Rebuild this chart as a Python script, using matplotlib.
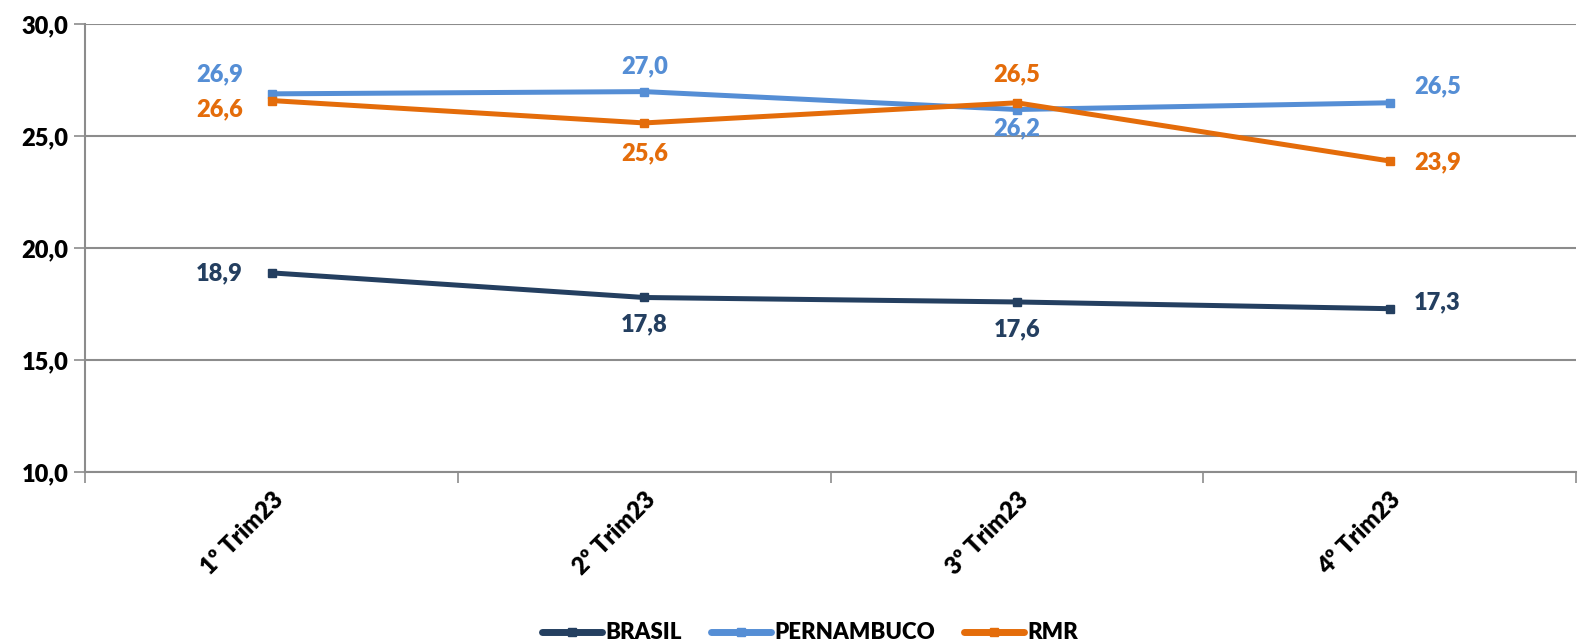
import matplotlib.pyplot as plt
from matplotlib.ticker import FixedLocator

plt.rcParams['font.family'] = ['Lato', 'DejaVu Sans']
plt.rcParams['font.weight'] = 'heavy'

trimestres = ["1º Trim23", "2º Trim23", "3º Trim23", "4º Trim23"]
brasil = [18.9, 17.8, 17.6, 17.3]
pernambuco = [26.9, 27.0, 26.2, 26.5]
rmr = [26.6, 25.6, 26.5, 23.9]

series = [
    ("BRASIL", brasil, "#243F60", [(-52, 0), (0, -27), (0, -27), (48, 6)]),
    ("PERNAMBUCO", pernambuco, "#558ED5", [(-52, 20), (0, 25), (0, -19), (48, 16)]),
    ("RMR", rmr, "#E46C0A", [(-52, -9), (0, -30), (0, 28), (48, -1)]),
]

fig = plt.figure(figsize=(15.79, 6.44), dpi=100)
ax = fig.add_axes([0.054, 0.267, 0.944, 0.695])

x = list(range(len(trimestres)))
for name, vals, color, offs in series:
    ax.plot(x, vals, color=color, lw=3.6, marker="s", markersize=6, label=name,
            solid_capstyle="butt", zorder=3)
    for xi, v, (dx, dy) in zip(x, vals, offs):
        ax.annotate(f"{v:.1f}".replace(".", ","), (xi, v), xytext=(dx, dy),
                    textcoords="offset pixels", ha="center", va="center",
                    color=color, fontsize=17, fontweight="heavy")

ax.set_ylim(10, 30)
ax.set_xlim(-0.5, 3.5)
ax.set_yticks([10, 15, 20, 25, 30])
ax.set_yticklabels(["10,0", "15,0", "20,0", "25,0", "30,0"], fontsize=17, fontweight="heavy")
ax.yaxis.grid(True, color="#8C8C8C", lw=1.5)
ax.set_axisbelow(True)

ax.set_xticks(x)
ax.set_xticklabels(trimestres, rotation=45, ha="right", rotation_mode="anchor",
                   fontsize=17, fontweight="heavy")
ax.tick_params(axis="x", which="major", length=0, pad=12)
ax.xaxis.set_minor_locator(FixedLocator([-0.5, 0.5, 1.5, 2.5, 3.5]))
ax.tick_params(axis="x", which="minor", length=8, color="#8C8C8C", width=1.2)
ax.tick_params(axis="y", length=8, color="#8C8C8C", width=1.2, pad=4)

for s in ["top", "right"]:
    ax.spines[s].set_visible(False)
ax.spines["left"].set_color("#8C8C8C")
ax.spines["left"].set_linewidth(1.5)
ax.spines["bottom"].set_color("#8C8C8C")
ax.spines["bottom"].set_linewidth(1.5)

leg = fig.legend(loc="lower center", bbox_to_anchor=(0.513, -0.03), ncol=3, frameon=False,
                 prop={"weight": "heavy", "size": 16}, handlelength=2.7,
                 handletextpad=0.15, columnspacing=1.3)
for h in leg.legend_handles:
    h.set_linewidth(5)
    h.set_solid_capstyle("round")

fig.savefig("out.png", dpi=100)
